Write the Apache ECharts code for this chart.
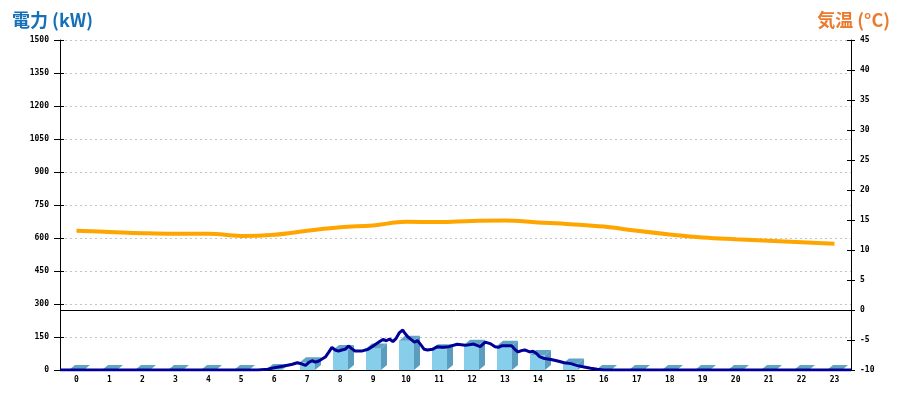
<!DOCTYPE html>
<html><head><meta charset="utf-8">
<script src="https://cdn.jsdelivr.net/npm/echarts@6/dist/echarts.min.js"></script>
<style>html,body{margin:0;padding:0;background:#fff}#c{width:900px;height:400px}</style>
</head><body><div id="c"></div>
<script>
const hours = ['0','1','2','3','4','5','6','7','8','9','10','11','12','13','14','15','16','17','18','19','20','21','22','23'];
const hourlyPower = [0,0,0,0,0,0,5,35,91,98,133,94,115,110,68,30,0,0,0,0,0,0,0,0];
const temperature = [13.2,13.0,12.8,12.7,12.7,12.35,12.55,13.2,13.8,14.1,14.7,14.65,14.85,14.9,14.6,14.3,13.9,13.2,12.6,12.1,11.8,11.55,11.3,11.05];
const powerTimes = [0,6.0,6.3,6.5,6.8,7.05,7.2,7.35,7.45,7.55,7.65,7.75,7.85,7.95,8.05,8.15,8.25,8.35,8.45,8.55,8.65,8.75,8.85,8.95,9.15,9.35,9.5,9.7,9.8,9.9,10.0,10.1,10.2,10.3,10.4,10.45,10.55,10.65,10.75,10.85,10.95,11.05,11.15,11.3,11.45,11.6,11.8,12.05,12.3,12.55,12.75,12.9,13.05,13.2,13.3,13.4,13.7,13.8,13.9,14.0,14.1,14.25,14.35,14.45,14.55,14.7,14.9,15.1,15.3,15.5,15.7,15.9,16.1,16.3,16.5,24];
const powerValues = [0,0,4,10,18,26,33,27,21,35,42,36,41,50,59,80,103,91,86,91,94,109,97,86,86,94,109,129,139,133,141,129,144,170,182,170,151,139,127,133,114,94,91,94,106,103,106,117,112,118,106,127,120,106,103,110,110,94,82,88,91,82,85,76,61,52,48,41,33,29,20,14,8,3,0,0];

const labelFont = {fontFamily:'DejaVu Sans Mono', fontSize:8, fontWeight:'bold', color:'#000'};
const FRONT = '#87CEEB', SIDE = '#5A9DBE', TOP = '#62A4C4';
const plain = v => String(v);

const chart = echarts.init(document.getElementById('c'), null, {renderer:'canvas'});
chart.setOption({
  animation:false,
  backgroundColor:'#fff',
  title:[
    {text:'電力 (kW)', left:7, top:6, textStyle:{fontFamily:'Noto Sans CJK JP', fontSize:18, fontWeight:'bold', color:'#1570B9'}},
    {text:'気温 (°C)', right:5, top:6, textStyle:{fontFamily:'Noto Sans CJK JP', fontSize:18, fontWeight:'bold', color:'#EB7A2E'}}
  ],
  grid:{left:60, right:49, top:40, bottom:30, containLabel:false, outerBoundsMode:'none'},
  xAxis:[
    {type:'category', data:hours, boundaryGap:true,
     axisLine:{lineStyle:{color:'#000', width:1}}, axisTick:{show:false},
     axisLabel:Object.assign({margin:6}, labelFont), splitLine:{show:false}},
    {type:'value', min:0, max:24, show:false}
  ],
  yAxis:[
    {type:'value', position:'left', min:0, max:1500, interval:150,
     axisLine:{show:true, lineStyle:{color:'#000'}}, axisTick:{show:true, length:6, lineStyle:{color:'#000'}},
     axisLabel:Object.assign({margin:11, formatter:plain}, labelFont),
     splitLine:{show:true, lineStyle:{color:'#c4c4c4', type:[2,3], width:1}}},
    {type:'value', position:'right', min:-10, max:45, interval:5,
     axisLine:{show:true, lineStyle:{color:'#000'}}, axisTick:{show:true, length:4, lineStyle:{color:'#000'}},
     axisLabel:Object.assign({margin:9, formatter:plain}, labelFont), splitLine:{show:false}},
    {type:'value', position:'left', min:0, max:1500, interval:150,
     axisLine:{show:false}, axisTick:{show:true, inside:true, length:4, lineStyle:{color:'#000'}},
     axisLabel:{show:false}, splitLine:{show:false}},
    {type:'value', position:'right', min:-10, max:45, interval:5,
     axisLine:{show:false}, axisTick:{show:true, inside:true, length:4, lineStyle:{color:'#000'}},
     axisLabel:{show:false}, splitLine:{show:false}}
  ],
  series:[
    {type:'custom', xAxisIndex:0, yAxisIndex:0, z:2,
     data:hourlyPower.map((v,i)=>[i,v]),
     renderItem:function(params, api){
       const idx = api.value(0), v = api.value(1);
       const base = api.coord([idx, 0]);
       const top = api.coord([idx, v]);
       const bw = 15, dx = 6, dy = 5;
       const x0 = Math.round(base[0] - bw/2), x1 = x0 + bw;
       const yb = base[1], yt = top[1];
       return {type:'group', children:[
         {type:'rect', shape:{x:x0, y:yt, width:bw, height:yb-yt}, style:{fill:FRONT}},
         {type:'polygon', shape:{points:[[x1,yb],[x1+dx,yb-dy],[x1+dx,yt-dy],[x1,yt]]}, style:{fill:SIDE}},
         {type:'polygon', shape:{points:[[x0,yt],[x0+dx,yt-dy],[x1+dx,yt-dy],[x1,yt]]}, style:{fill:TOP}}
       ]};
     }},
    {type:'line', name:'power', xAxisIndex:1, yAxisIndex:0, z:4,
     data:powerTimes.map((t,i)=>[t, powerValues[i]]),
     showSymbol:false, symbol:'none', lineStyle:{color:'#000096', width:3}},
    {type:'line', name:'temp', xAxisIndex:0, yAxisIndex:1, z:4,
     data:temperature, smooth:0.4, showSymbol:false, symbol:'none',
     lineStyle:{color:'#FFA500', width:4},
     markLine:{silent:true, symbol:'none', label:{show:false},
       lineStyle:{color:'#000', type:'solid', width:1}, data:[{yAxis:0}]}}
  ]
});
</script></body></html>
